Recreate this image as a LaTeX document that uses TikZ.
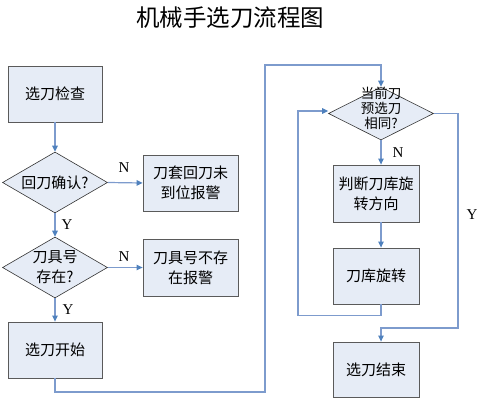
\documentclass[tikz,border=0pt]{standalone}
\usepackage{fontspec}
\setmainfont{Liberation Serif}
\newfontfamily\cjk{Noto Sans CJK SC}
\usetikzlibrary{arrows.meta,shapes.geometric,shadows}
\definecolor{boxfill}{RGB}{230,236,246}
\definecolor{boxline}{RGB}{90,90,90}
\definecolor{conn}{RGB}{125,155,205}
\definecolor{tipc}{RGB}{79,129,189}
\tikzset{
  stepbox/.style={draw=boxline, line width=0.8pt, fill=boxfill, rectangle, inner sep=0pt,
    align=center, font=\cjk\fontsize{15}{20}\selectfont,
    general shadow={fill=black!75, shadow xshift=1pt, shadow yshift=-1pt}},
  decide/.style={draw=black!80, line width=0.6pt, fill=boxfill, diamond, inner sep=0pt},
  dtext/.style={align=center, font=\cjk\fontsize{15}{17}\selectfont, inner sep=0pt},
  conn/.style={draw=conn, line width=1.2pt},
  arr/.style={conn, -{Triangle[length=6pt,width=5.5pt,color=tipc]}},
  yn/.style={font=\fontsize{15}{15}\selectfont, inner sep=0pt}
}
\begin{document}
\begin{tikzpicture}[x=1pt,y=-1pt]
\useasboundingbox (0,0) rectangle (488,404);
\node[font=\cjk\fontsize{23.5}{23.5}\selectfont] (title) at (230,18) {机械手选刀流程图};

\node[stepbox, minimum width=94pt, minimum height=56pt] (b1) at (55,94) {选刀检查};
\node[decide, minimum width=105pt, minimum height=61pt,
      label={[dtext]center:回刀确认?}] (d1) at (55,182.5) {};
\node[stepbox, minimum width=95pt, minimum height=56pt] (a1) at (190.5,183) {刀套回刀未\\到位报警};
\node[decide, minimum width=105pt, minimum height=61pt,
      label={[dtext, font=\cjk\fontsize{15}{20}\selectfont]center:刀具号\\存在?}] (d2) at (55,267.5) {};
\node[stepbox, minimum width=95pt, minimum height=57pt] (a2) at (190.5,267.5) {刀具号不存\\在报警};
\node[stepbox, minimum width=94pt, minimum height=56pt] (b2) at (55,350) {选刀开始};

\node[decide, minimum width=105pt, minimum height=53pt,
      label={[dtext, font=\cjk\fontsize{13.5}{15}\selectfont, yshift=5pt]center:当前刀\\预选刀\\相同?}] (d3) at (381,113.5) {};
\node[stepbox, minimum width=86pt, minimum height=57pt] (b3) at (376,193.5) {判断刀库旋\\转方向};
\node[stepbox, minimum width=86pt, minimum height=56pt] (b4) at (376,276) {刀库旋转};
\node[stepbox, minimum width=86pt, minimum height=55pt] (b5) at (376,369.5) {选刀结束};

% left column
\draw[arr] (b1.south) -- (d1.north);
\draw[arr] (d1.east) -- (a1.west);
\node[yn] (n1) at (124,168) {N};
\draw[arr] (d1.south) -- (d2.north);
\node[yn] (y1) at (67,225) {Y};
\draw[arr] (d2.east) -- (a2.west);
\node[yn] (n2) at (124,257) {N};
\draw[arr] (d2.south) -- (b2.north);
\node[yn] (y2) at (68,310) {Y};

% bridge to right column
\coordinate (c1) at (265,392);
\coordinate (c2) at (265,65);
\draw[arr] (b2.south) |- (c1) -- (c2) -| (d3.north);

% right column
\draw[arr] (d3.south) -- (d3.south |- b3.north);
\node[yn] (n3) at (398,153) {N};
\draw[arr] (d3.south |- b3.south) -- (d3.south |- b4.north);
\coordinate (lp) at (298,111);
\draw[arr] (d3.south |- b4.south) -- ++(0,11) -| (lp) -- (lp -| d3.west);
\coordinate (yc) at (458,328);
\draw[arr] (d3.east) -| (yc) -| (d3.south |- b5.north);
\node[yn] (y3) at (472,215) {Y};
\end{tikzpicture}
\end{document}
